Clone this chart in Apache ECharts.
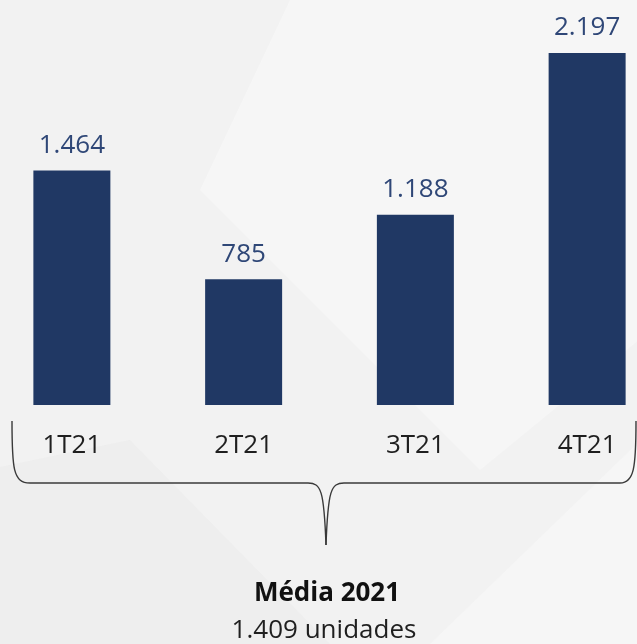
<!DOCTYPE html>
<html>
<head>
<meta charset="utf-8">
<script src="https://cdn.jsdelivr.net/npm/echarts@6/dist/echarts.min.js"></script>
<style>
  html, body { margin: 0; padding: 0; background: #f2f2f2; overflow: hidden; }
  /* the plot runs slightly past both page edges */
  #chart { width: 687px; height: 644px; margin-left: -14px; }
</style>
</head>
<body>
<div id="chart"></div>
<script>
// Quarterly units, 2021
const quarters = ['1T21', '2T21', '3T21', '4T21'];
const units = [1464, 785, 1188, 2197];
const averageTitle = 'Média 2021';
const averageText = '1.409 unidades';

// Brazilian thousands separator
function fmt(v) {
  return String(v).replace(/\B(?=(\d{3})+(?!\d))/g, '.');
}

// the canvas starts 14px left of the page
const OX = 14;
const braceStyle = { stroke: '#3a3a3a', lineWidth: 1.4, fill: null };
function curve(x1, y1, c1x, c1y, c2x, c2y, x2, y2) {
  return {
    type: 'bezierCurve', z: 5, silent: true,
    shape: { x1: x1 + OX, y1: y1, cpx1: c1x + OX, cpy1: c1y, cpx2: c2x + OX, cpy2: c2y, x2: x2 + OX, y2: y2 },
    style: braceStyle
  };
}
function segment(x1, y1, x2, y2) {
  return {
    type: 'line', z: 5, silent: true,
    shape: { x1: x1 + OX, y1: y1, x2: x2 + OX, y2: y2 },
    style: braceStyle
  };
}
function shade(points, fill) {
  return {
    type: 'polygon', z: -10, silent: true,
    shape: { points: points.map(p => [p[0] + OX, p[1]]) },
    style: { fill: fill }
  };
}

const chart = echarts.init(document.getElementById('chart'));

chart.setOption({
  backgroundColor: '#f2f2f2',
  animation: false,
  grid: { left: 0, right: 0, top: 0, height: 405, containLabel: false },
  xAxis: {
    type: 'category',
    data: quarters,
    axisLine: { show: false },
    axisTick: { show: false },
    axisLabel: {
      margin: 28,
      fontFamily: 'Open Sans',
      fontSize: 26,
      color: '#1f1f1f'
    }
  },
  yAxis: {
    type: 'value',
    min: 0,
    max: 2528,
    show: false,
    splitLine: { show: false }
  },
  graphic: [
    // soft diagonal light shapes in the backdrop
    shade([[290, 0], [651, 0], [651, 330], [480, 470], [200, 190]], 'rgba(255,255,255,0.35)'),
    shade([[-14, 470], [-14, 644], [330, 644], [130, 440]], 'rgba(228,228,228,0.3)'),
    shade([[430, 644], [651, 644], [651, 430]], 'rgba(255,255,255,0.3)'),
    // curly brace grouping the four quarters
    curve(12, 421, 12, 468, 13, 483, 30, 483),
    segment(30, 483, 308, 483),
    curve(308, 483, 321, 483, 324, 490, 326, 545),
    curve(326, 545, 328, 490, 331, 483, 344, 483),
    segment(344, 483, 620, 483),
    curve(620, 483, 634, 483, 636, 468, 636, 421),
    {
      type: 'text', z: 5,
      style: {
        x: 327 + OX, y: 594, text: averageTitle,
        textAlign: 'center', textVerticalAlign: 'middle',
        font: 'bold 26px "Open Sans"', fill: '#111111'
      }
    },
    {
      type: 'text', z: 5,
      style: {
        x: 324 + OX, y: 631, text: averageText,
        textAlign: 'center', textVerticalAlign: 'middle',
        font: '26px "Open Sans"', fill: '#1f1f1f'
      }
    }
  ],
  series: [{
    type: 'bar',
    data: units,
    barWidth: 77,
    itemStyle: { color: '#203864' },
    label: {
      show: true,
      position: 'top',
      distance: 12,
      fontFamily: 'Open Sans',
      fontSize: 26,
      color: '#2f4777',
      formatter: p => fmt(p.value)
    }
  }]
});
</script>
</body>
</html>
